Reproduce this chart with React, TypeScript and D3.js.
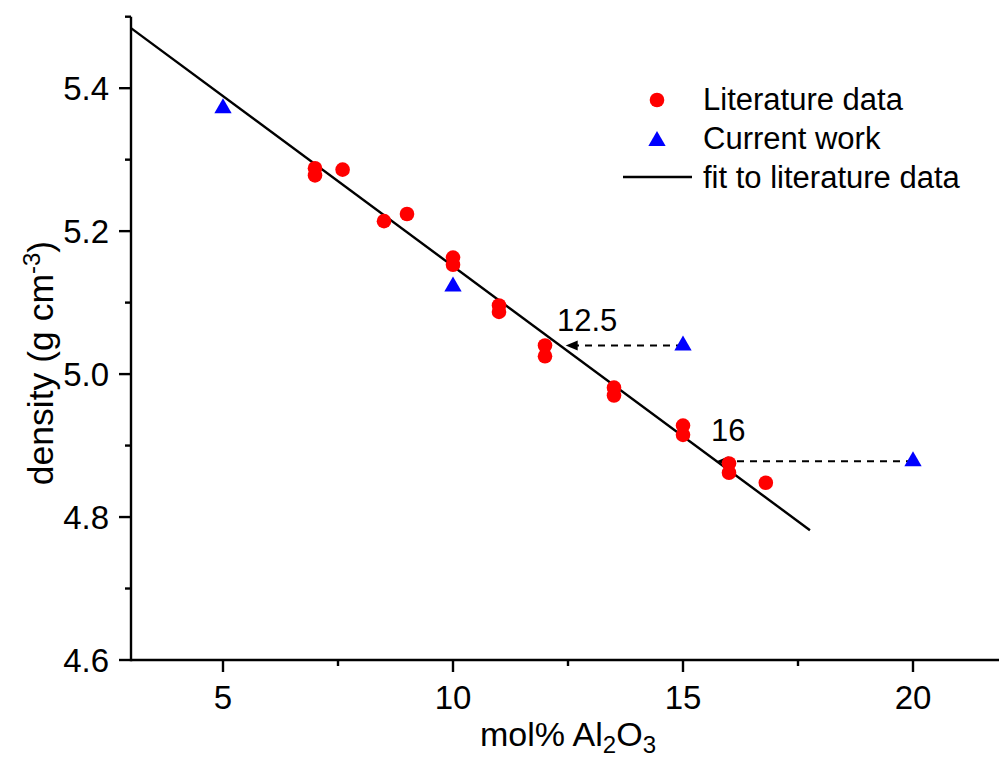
import React from "react";
import * as d3 from "d3";

const litX = [7, 7, 7.6, 8.5, 9, 10, 10, 11, 11, 12, 12, 13.5, 13.5, 15, 15, 16, 16, 16.8];
const litY = [5.288, 5.278, 5.286, 5.214, 5.224, 5.163, 5.153, 5.096, 5.087, 5.04, 5.025, 4.981, 4.97, 4.928, 4.915, 4.875, 4.862, 4.848];
const curX = [5, 10, 15, 20];
const curY = [5.372, 5.1225, 5.04, 4.878];
const fitX = [3, 17.76];
const fitY = [5.484, 4.7816];
const arrowFromX = [15, 20];
const arrowToX = [12.45, 15.73];
const arrowY = [5.04, 4.878];
const arrowLabels = ["12.5", "16"];
const xMajor = [5, 10, 15, 20];
const xMinor = [7.5, 12.5, 17.5];
const yMajor = [4.6, 4.8, 5.0, 5.2, 5.4];
const yMinor = [4.7, 4.9, 5.1, 5.3, 5.5];
const legendLabels = ["Literature data", "Current work", "fit to literature data"];

const FONT = "'Liberation Sans', Arial, sans-serif";

export default function App() {
  const x = d3.scaleLinear().domain([3, 22]).range([131, 1005]);
  const y = d3.scaleLinear().domain([4.6, 5.5]).range([660, 16.7]);
  const tri = d3.symbol().type(d3.symbolTriangle).size(130)();
  const line = d3.line<number>().x((_, i) => x(fitX[i])).y((_, i) => y(fitY[i]));

  return (
    <svg width={999} height={760} style={{ position: "absolute", left: 0, top: 0, background: "#fff" }} fontFamily={FONT}>
      <rect width={999} height={760} fill="#fff" />
      {/* axes */}
      <line x1={x(3)} x2={999} y1={y(4.6)} y2={y(4.6)} stroke="#000" strokeWidth={2.4} />
      <line x1={x(3)} x2={x(3)} y1={y(4.6) + 1.2} y2={y(5.5)} stroke="#000" strokeWidth={2.4} />
      {xMajor.map((v) => (
        <g key={"xm" + v}>
          <line x1={x(v)} x2={x(v)} y1={y(4.6)} y2={y(4.6) + 12} stroke="#000" strokeWidth={2.4} />
          <text x={x(v)} y={708.5} fontSize={33} textAnchor="middle" fill="#000">{v}</text>
        </g>
      ))}
      {xMinor.map((v) => (
        <line key={"xn" + v} x1={x(v)} x2={x(v)} y1={y(4.6)} y2={y(4.6) + 6} stroke="#000" strokeWidth={2.4} />
      ))}
      {yMajor.map((v) => (
        <g key={"ym" + v}>
          <line x1={x(3) - 12} x2={x(3)} y1={y(v)} y2={y(v)} stroke="#000" strokeWidth={2.4} />
          <text x={109} y={y(v) + 12} fontSize={33} textAnchor="end" fill="#000">{v.toFixed(1)}</text>
        </g>
      ))}
      {yMinor.map((v) => (
        <line key={"yn" + v} x1={x(3) - 6} x2={x(3)} y1={y(v)} y2={y(v)} stroke="#000" strokeWidth={2.4} />
      ))}
      {/* axis titles */}
      <text x={568} y={746} fontSize={34} textAnchor="middle" fill="#000">
        mol% Al<tspan fontSize={24} dy={7}>2</tspan><tspan dy={-7}>O</tspan><tspan fontSize={24} dy={7}>3</tspan>
      </text>
      <text transform="translate(53,363) rotate(-90)" fontSize={35.5} textAnchor="middle" fill="#000">
        density (g cm<tspan fontSize={24} dy={-13}>-3</tspan><tspan dy={13}>)</tspan>
      </text>
      {/* fit line */}
      <path d={line(fitX) || ""} fill="none" stroke="#000" strokeWidth={2.4} />
      {/* arrows */}
      {arrowFromX.map((fx, i) => {
        const x1 = x(fx);
        const x2 = x(arrowToX[i]);
        const yy = y(arrowY[i]);
        return (
          <g key={"ar" + i}>
            <line x1={x1} x2={x2 + 10} y1={yy} y2={yy} stroke="#000" strokeWidth={1.9} strokeDasharray="7,6" />
            <path d={`M${x2},${yy}L${x2 + 12},${yy - 5}L${x2 + 12},${yy + 5}Z`} fill="#000" />
          </g>
        );
      })}
      {/* points */}
      {litX.map((v, i) => (
        <circle key={"l" + i} cx={x(v)} cy={y(litY[i])} r={7.3} fill="#ff0000" />
      ))}
      {curX.map((v, i) => (
        <path key={"c" + i} d={tri || ""} transform={`translate(${x(v)},${y(curY[i])})`} fill="#0000ff" />
      ))}
      {/* arrow labels */}
      <text x={557} y={331} fontSize={31} fill="#000">{arrowLabels[0]}</text>
      <text x={711} y={441} fontSize={31} fill="#000">{arrowLabels[1]}</text>
      {/* legend */}
      <circle cx={657} cy={100} r={7.3} fill="#ff0000" />
      <path d={tri || ""} transform="translate(657,141)" fill="#0000ff" />
      <line x1={623} x2={692} y1={177} y2={177} stroke="#000" strokeWidth={2.4} />
      {legendLabels.map((t, i) => (
        <text key={t} x={703} y={110 + i * 39} fontSize={31} fill="#000">{t}</text>
      ))}
    </svg>
  );
}
